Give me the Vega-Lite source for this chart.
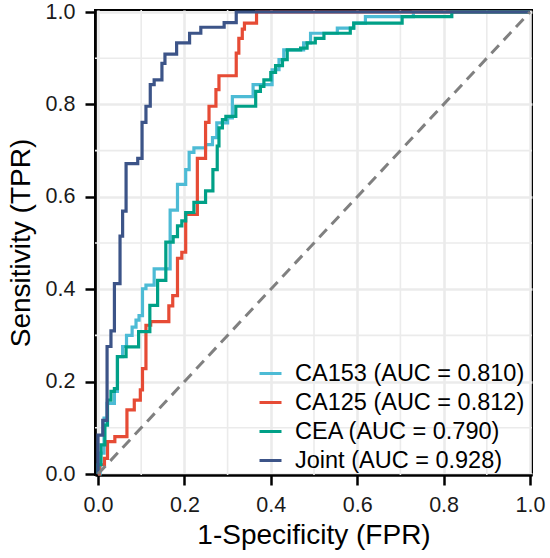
{
  "$schema": "https://vega.github.io/schema/vega-lite/v6.json",
  "autosize": {"type": "none"},
  "padding": {"left": 95, "top": 10, "right": 18, "bottom": 83},
  "width": 437,
  "height": 465,
  "background": "white",
  "datasets": {
    "roc": [
      {"model":"CA153","fpr":0,"tpr":0},{"model":"CA153","fpr":0.005,"tpr":0},{"model":"CA153","fpr":0.005,"tpr":0.045},{"model":"CA153","fpr":0.014,"tpr":0.045},{"model":"CA153","fpr":0.014,"tpr":0.121},{"model":"CA153","fpr":0.021,"tpr":0.121},{"model":"CA153","fpr":0.021,"tpr":0.153},{"model":"CA153","fpr":0.030,"tpr":0.153},{"model":"CA153","fpr":0.038,"tpr":0.153},{"model":"CA153","fpr":0.038,"tpr":0.179},{"model":"CA153","fpr":0.045,"tpr":0.179},{"model":"CA153","fpr":0.045,"tpr":0.254},{"model":"CA153","fpr":0.057,"tpr":0.254},{"model":"CA153","fpr":0.057,"tpr":0.276},{"model":"CA153","fpr":0.066,"tpr":0.276},{"model":"CA153","fpr":0.066,"tpr":0.300},{"model":"CA153","fpr":0.079,"tpr":0.300},{"model":"CA153","fpr":0.079,"tpr":0.318},{"model":"CA153","fpr":0.088,"tpr":0.318},{"model":"CA153","fpr":0.088,"tpr":0.333},{"model":"CA153","fpr":0.095,"tpr":0.333},{"model":"CA153","fpr":0.095,"tpr":0.343},{"model":"CA153","fpr":0.103,"tpr":0.343},{"model":"CA153","fpr":0.103,"tpr":0.401},{"model":"CA153","fpr":0.111,"tpr":0.401},{"model":"CA153","fpr":0.111,"tpr":0.409},{"model":"CA153","fpr":0.130,"tpr":0.409},{"model":"CA153","fpr":0.130,"tpr":0.444},{"model":"CA153","fpr":0.167,"tpr":0.444},{"model":"CA153","fpr":0.167,"tpr":0.571},{"model":"CA153","fpr":0.184,"tpr":0.571},{"model":"CA153","fpr":0.184,"tpr":0.627},{"model":"CA153","fpr":0.203,"tpr":0.627},{"model":"CA153","fpr":0.203,"tpr":0.659},{"model":"CA153","fpr":0.211,"tpr":0.659},{"model":"CA153","fpr":0.211,"tpr":0.696},{"model":"CA153","fpr":0.222,"tpr":0.696},{"model":"CA153","fpr":0.222,"tpr":0.706},{"model":"CA153","fpr":0.249,"tpr":0.706},{"model":"CA153","fpr":0.249,"tpr":0.713},{"model":"CA153","fpr":0.265,"tpr":0.713},{"model":"CA153","fpr":0.265,"tpr":0.728},{"model":"CA153","fpr":0.275,"tpr":0.728},{"model":"CA153","fpr":0.275,"tpr":0.760},{"model":"CA153","fpr":0.300,"tpr":0.760},{"model":"CA153","fpr":0.300,"tpr":0.771},{"model":"CA153","fpr":0.311,"tpr":0.771},{"model":"CA153","fpr":0.311,"tpr":0.817},{"model":"CA153","fpr":0.359,"tpr":0.817},{"model":"CA153","fpr":0.359,"tpr":0.843},{"model":"CA153","fpr":0.403,"tpr":0.843},{"model":"CA153","fpr":0.403,"tpr":0.875},{"model":"CA153","fpr":0.419,"tpr":0.875},{"model":"CA153","fpr":0.419,"tpr":0.897},{"model":"CA153","fpr":0.430,"tpr":0.897},{"model":"CA153","fpr":0.430,"tpr":0.918},{"model":"CA153","fpr":0.476,"tpr":0.918},{"model":"CA153","fpr":0.476,"tpr":0.933},{"model":"CA153","fpr":0.492,"tpr":0.933},{"model":"CA153","fpr":0.492,"tpr":0.954},{"model":"CA153","fpr":0.554,"tpr":0.954},{"model":"CA153","fpr":0.554,"tpr":0.965},{"model":"CA153","fpr":0.592,"tpr":0.965},{"model":"CA153","fpr":0.592,"tpr":0.976},{"model":"CA153","fpr":0.619,"tpr":0.976},{"model":"CA153","fpr":0.619,"tpr":0.990},{"model":"CA153","fpr":0.730,"tpr":0.990},{"model":"CA153","fpr":0.730,"tpr":1},{"model":"CA153","fpr":1,"tpr":1},
      {"model":"CA125","fpr":0,"tpr":0},{"model":"CA125","fpr":0.003,"tpr":0},{"model":"CA125","fpr":0.003,"tpr":0.020},{"model":"CA125","fpr":0.015,"tpr":0.020},{"model":"CA125","fpr":0.015,"tpr":0.034},{"model":"CA125","fpr":0.022,"tpr":0.034},{"model":"CA125","fpr":0.022,"tpr":0.070},{"model":"CA125","fpr":0.039,"tpr":0.070},{"model":"CA125","fpr":0.039,"tpr":0.081},{"model":"CA125","fpr":0.067,"tpr":0.081},{"model":"CA125","fpr":0.067,"tpr":0.139},{"model":"CA125","fpr":0.084,"tpr":0.139},{"model":"CA125","fpr":0.084,"tpr":0.160},{"model":"CA125","fpr":0.098,"tpr":0.160},{"model":"CA125","fpr":0.098,"tpr":0.182},{"model":"CA125","fpr":0.103,"tpr":0.182},{"model":"CA125","fpr":0.103,"tpr":0.228},{"model":"CA125","fpr":0.111,"tpr":0.228},{"model":"CA125","fpr":0.111,"tpr":0.322},{"model":"CA125","fpr":0.122,"tpr":0.322},{"model":"CA125","fpr":0.122,"tpr":0.330},{"model":"CA125","fpr":0.164,"tpr":0.330},{"model":"CA125","fpr":0.164,"tpr":0.364},{"model":"CA125","fpr":0.173,"tpr":0.364},{"model":"CA125","fpr":0.173,"tpr":0.386},{"model":"CA125","fpr":0.184,"tpr":0.386},{"model":"CA125","fpr":0.184,"tpr":0.467},{"model":"CA125","fpr":0.194,"tpr":0.467},{"model":"CA125","fpr":0.194,"tpr":0.480},{"model":"CA125","fpr":0.203,"tpr":0.480},{"model":"CA125","fpr":0.203,"tpr":0.562},{"model":"CA125","fpr":0.230,"tpr":0.562},{"model":"CA125","fpr":0.230,"tpr":0.683},{"model":"CA125","fpr":0.249,"tpr":0.683},{"model":"CA125","fpr":0.249,"tpr":0.761},{"model":"CA125","fpr":0.257,"tpr":0.761},{"model":"CA125","fpr":0.257,"tpr":0.796},{"model":"CA125","fpr":0.273,"tpr":0.796},{"model":"CA125","fpr":0.273,"tpr":0.832},{"model":"CA125","fpr":0.280,"tpr":0.832},{"model":"CA125","fpr":0.280,"tpr":0.862},{"model":"CA125","fpr":0.320,"tpr":0.862},{"model":"CA125","fpr":0.320,"tpr":0.911},{"model":"CA125","fpr":0.326,"tpr":0.911},{"model":"CA125","fpr":0.326,"tpr":0.943},{"model":"CA125","fpr":0.334,"tpr":0.943},{"model":"CA125","fpr":0.334,"tpr":0.963},{"model":"CA125","fpr":0.339,"tpr":0.963},{"model":"CA125","fpr":0.339,"tpr":0.976},{"model":"CA125","fpr":0.367,"tpr":0.976},{"model":"CA125","fpr":0.367,"tpr":1},{"model":"CA125","fpr":1,"tpr":1},
      {"model":"CEA","fpr":0,"tpr":0},{"model":"CEA","fpr":0,"tpr":0.020},{"model":"CEA","fpr":0.007,"tpr":0.020},{"model":"CEA","fpr":0.007,"tpr":0.063},{"model":"CEA","fpr":0.016,"tpr":0.063},{"model":"CEA","fpr":0.016,"tpr":0.106},{"model":"CEA","fpr":0.022,"tpr":0.106},{"model":"CEA","fpr":0.022,"tpr":0.160},{"model":"CEA","fpr":0.030,"tpr":0.160},{"model":"CEA","fpr":0.030,"tpr":0.179},{"model":"CEA","fpr":0.038,"tpr":0.179},{"model":"CEA","fpr":0.038,"tpr":0.185},{"model":"CEA","fpr":0.045,"tpr":0.185},{"model":"CEA","fpr":0.045,"tpr":0.254},{"model":"CEA","fpr":0.065,"tpr":0.254},{"model":"CEA","fpr":0.065,"tpr":0.275},{"model":"CEA","fpr":0.094,"tpr":0.275},{"model":"CEA","fpr":0.094,"tpr":0.308},{"model":"CEA","fpr":0.120,"tpr":0.308},{"model":"CEA","fpr":0.120,"tpr":0.365},{"model":"CEA","fpr":0.138,"tpr":0.365},{"model":"CEA","fpr":0.138,"tpr":0.419},{"model":"CEA","fpr":0.157,"tpr":0.419},{"model":"CEA","fpr":0.157,"tpr":0.502},{"model":"CEA","fpr":0.174,"tpr":0.502},{"model":"CEA","fpr":0.174,"tpr":0.514},{"model":"CEA","fpr":0.184,"tpr":0.514},{"model":"CEA","fpr":0.184,"tpr":0.537},{"model":"CEA","fpr":0.194,"tpr":0.537},{"model":"CEA","fpr":0.194,"tpr":0.548},{"model":"CEA","fpr":0.203,"tpr":0.548},{"model":"CEA","fpr":0.203,"tpr":0.566},{"model":"CEA","fpr":0.222,"tpr":0.566},{"model":"CEA","fpr":0.222,"tpr":0.588},{"model":"CEA","fpr":0.249,"tpr":0.588},{"model":"CEA","fpr":0.249,"tpr":0.613},{"model":"CEA","fpr":0.266,"tpr":0.613},{"model":"CEA","fpr":0.266,"tpr":0.659},{"model":"CEA","fpr":0.276,"tpr":0.659},{"model":"CEA","fpr":0.276,"tpr":0.710},{"model":"CEA","fpr":0.280,"tpr":0.710},{"model":"CEA","fpr":0.280,"tpr":0.749},{"model":"CEA","fpr":0.288,"tpr":0.749},{"model":"CEA","fpr":0.288,"tpr":0.767},{"model":"CEA","fpr":0.296,"tpr":0.767},{"model":"CEA","fpr":0.296,"tpr":0.774},{"model":"CEA","fpr":0.319,"tpr":0.774},{"model":"CEA","fpr":0.319,"tpr":0.796},{"model":"CEA","fpr":0.365,"tpr":0.796},{"model":"CEA","fpr":0.365,"tpr":0.828},{"model":"CEA","fpr":0.376,"tpr":0.828},{"model":"CEA","fpr":0.376,"tpr":0.839},{"model":"CEA","fpr":0.384,"tpr":0.839},{"model":"CEA","fpr":0.384,"tpr":0.853},{"model":"CEA","fpr":0.400,"tpr":0.853},{"model":"CEA","fpr":0.400,"tpr":0.869},{"model":"CEA","fpr":0.411,"tpr":0.869},{"model":"CEA","fpr":0.411,"tpr":0.884},{"model":"CEA","fpr":0.427,"tpr":0.884},{"model":"CEA","fpr":0.427,"tpr":0.897},{"model":"CEA","fpr":0.438,"tpr":0.897},{"model":"CEA","fpr":0.438,"tpr":0.918},{"model":"CEA","fpr":0.469,"tpr":0.918},{"model":"CEA","fpr":0.469,"tpr":0.922},{"model":"CEA","fpr":0.484,"tpr":0.922},{"model":"CEA","fpr":0.484,"tpr":0.933},{"model":"CEA","fpr":0.503,"tpr":0.933},{"model":"CEA","fpr":0.503,"tpr":0.943},{"model":"CEA","fpr":0.523,"tpr":0.943},{"model":"CEA","fpr":0.523,"tpr":0.954},{"model":"CEA","fpr":0.584,"tpr":0.954},{"model":"CEA","fpr":0.584,"tpr":0.965},{"model":"CEA","fpr":0.592,"tpr":0.965},{"model":"CEA","fpr":0.592,"tpr":0.976},{"model":"CEA","fpr":0.704,"tpr":0.976},{"model":"CEA","fpr":0.704,"tpr":0.990},{"model":"CEA","fpr":0.819,"tpr":0.990},{"model":"CEA","fpr":0.819,"tpr":1},{"model":"CEA","fpr":1,"tpr":1},
      {"model":"Joint","fpr":0,"tpr":0},{"model":"Joint","fpr":0,"tpr":0.084},{"model":"Joint","fpr":0.011,"tpr":0.084},{"model":"Joint","fpr":0.011,"tpr":0.116},{"model":"Joint","fpr":0.021,"tpr":0.116},{"model":"Joint","fpr":0.021,"tpr":0.276},{"model":"Joint","fpr":0.030,"tpr":0.276},{"model":"Joint","fpr":0.030,"tpr":0.310},{"model":"Joint","fpr":0.038,"tpr":0.310},{"model":"Joint","fpr":0.038,"tpr":0.412},{"model":"Joint","fpr":0.051,"tpr":0.412},{"model":"Joint","fpr":0.051,"tpr":0.515},{"model":"Joint","fpr":0.057,"tpr":0.515},{"model":"Joint","fpr":0.057,"tpr":0.569},{"model":"Joint","fpr":0.065,"tpr":0.569},{"model":"Joint","fpr":0.065,"tpr":0.672},{"model":"Joint","fpr":0.092,"tpr":0.672},{"model":"Joint","fpr":0.092,"tpr":0.683},{"model":"Joint","fpr":0.102,"tpr":0.683},{"model":"Joint","fpr":0.102,"tpr":0.761},{"model":"Joint","fpr":0.111,"tpr":0.761},{"model":"Joint","fpr":0.111,"tpr":0.796},{"model":"Joint","fpr":0.121,"tpr":0.796},{"model":"Joint","fpr":0.121,"tpr":0.843},{"model":"Joint","fpr":0.130,"tpr":0.843},{"model":"Joint","fpr":0.130,"tpr":0.853},{"model":"Joint","fpr":0.148,"tpr":0.853},{"model":"Joint","fpr":0.148,"tpr":0.889},{"model":"Joint","fpr":0.155,"tpr":0.889},{"model":"Joint","fpr":0.155,"tpr":0.909},{"model":"Joint","fpr":0.182,"tpr":0.909},{"model":"Joint","fpr":0.182,"tpr":0.933},{"model":"Joint","fpr":0.212,"tpr":0.933},{"model":"Joint","fpr":0.212,"tpr":0.954},{"model":"Joint","fpr":0.238,"tpr":0.954},{"model":"Joint","fpr":0.238,"tpr":0.967},{"model":"Joint","fpr":0.292,"tpr":0.967},{"model":"Joint","fpr":0.292,"tpr":0.977},{"model":"Joint","fpr":0.320,"tpr":0.977},{"model":"Joint","fpr":0.320,"tpr":1},{"model":"Joint","fpr":1,"tpr":1}
    ],
    "auc": [
      {"model":"CA153","label":"CA153 (AUC = 0.810)"},
      {"model":"CA125","label":"CA125 (AUC = 0.812)"},
      {"model":"CEA","label":"CEA (AUC = 0.790)"},
      {"model":"Joint","label":"Joint (AUC = 0.928)"}
    ],
    "minor": [{"v":0.1},{"v":0.3},{"v":0.5},{"v":0.7},{"v":0.9}],
    "diag": [{"fpr":0,"tpr":0},{"fpr":1,"tpr":1}]
  },
  "layer": [
    {
      "data": {"name": "minor"},
      "mark": {"type": "rule", "color": "#EBEBEB", "strokeWidth": 1.6},
      "encoding": {
        "x": {"field": "v", "type": "quantitative", "title": "1-Specificity (FPR)", "scale": {"domain": [-0.00694, 1.00463], "nice": false, "zero": false}, "axis": {"values": [0, 0.2, 0.4, 0.6, 0.8, 1.0], "format": ".1f"}}
      }
    },
    {
      "data": {"name": "minor"},
      "mark": {"type": "rule", "color": "#EBEBEB", "strokeWidth": 1.6},
      "encoding": {
        "y": {"field": "v", "type": "quantitative", "title": "Sensitivity (TPR)", "scale": {"domain": [-0.00216, 1.00433], "nice": false, "zero": false}, "axis": {"values": [0, 0.2, 0.4, 0.6, 0.8, 1.0], "format": ".1f"}}
      }
    },
    {
      "data": {"name": "roc"},
      "transform": [{"lookup": "model", "from": {"data": {"name": "auc"}, "key": "model", "fields": ["label"]}}],
      "mark": {"type": "line", "strokeWidth": 3.2, "interpolate": "linear"},
      "encoding": {
        "x": {"field": "fpr", "type": "quantitative", "title": "1-Specificity (FPR)", "scale": {"domain": [-0.00694, 1.00463], "nice": false, "zero": false}, "axis": {"values": [0, 0.2, 0.4, 0.6, 0.8, 1.0], "format": ".1f"}},
        "y": {"field": "tpr", "type": "quantitative", "title": "Sensitivity (TPR)", "scale": {"domain": [-0.00216, 1.00433], "nice": false, "zero": false}, "axis": {"values": [0, 0.2, 0.4, 0.6, 0.8, 1.0], "format": ".1f"}},
        "color": {
          "field": "label", "type": "nominal",
          "scale": {"domain": ["CA153 (AUC = 0.810)", "CA125 (AUC = 0.812)", "CEA (AUC = 0.790)", "Joint (AUC = 0.928)"], "range": ["#4DBBD5", "#E64B35", "#00A087", "#3C5488"]},
          "legend": {"title": null, "orient": "none", "legendX": 163, "legendY": 351, "symbolType": "stroke", "symbolSize": 484, "symbolStrokeWidth": 3, "labelFont": "Liberation Sans", "labelFontSize": 23.5, "labelColor": "#000000", "labelLimit": 400, "labelOffset": 12, "rowPadding": 5, "padding": 0}
        },
        "order": [{"field": "fpr", "type": "quantitative"}, {"field": "tpr", "type": "quantitative"}]
      }
    },
    {
      "data": {"name": "diag"},
      "mark": {"type": "line", "color": "#808080", "strokeWidth": 3, "strokeDash": [11, 7]},
      "encoding": {
        "x": {"field": "fpr", "type": "quantitative", "title": "1-Specificity (FPR)", "scale": {"domain": [-0.00694, 1.00463], "nice": false, "zero": false}, "axis": {"values": [0, 0.2, 0.4, 0.6, 0.8, 1.0], "format": ".1f"}},
        "y": {"field": "tpr", "type": "quantitative", "title": "Sensitivity (TPR)", "scale": {"domain": [-0.00216, 1.00433], "nice": false, "zero": false}, "axis": {"values": [0, 0.2, 0.4, 0.6, 0.8, 1.0], "format": ".1f"}}
      }
    }
  ],
  "config": {
    "view": {"stroke": "#000000", "strokeWidth": 2},
    "axis": {
      "grid": true,
      "gridColor": "#EBEBEB",
      "gridWidth": 2.6,
      "domainColor": "#000000",
      "domainWidth": 2.7,
      "tickColor": "#000000",
      "tickWidth": 2.5,
      "tickSize": 10,
      "labelFont": "Liberation Sans",
      "labelFontSize": 21.5,
      "labelColor": "#1a1a1a",
      "labelFlush": false,
      "labelOverlap": false,
      "titleFont": "Liberation Sans",
      "titleFontSize": 28,
      "titleFontWeight": "normal",
      "titleColor": "#000000"
    },
    "axisX": {"labelPadding": 9, "titlePadding": 6},
    "axisY": {"labelPadding": 10, "titlePadding": 10}
  }
}
